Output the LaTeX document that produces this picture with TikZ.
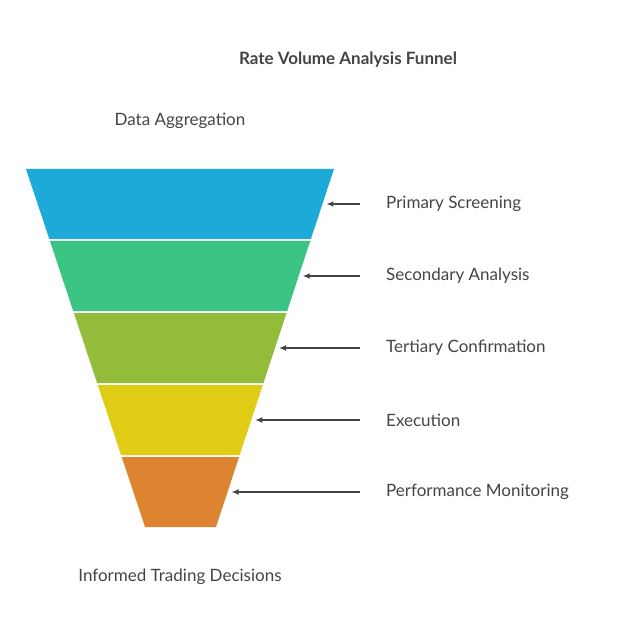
\documentclass[tikz,border=0pt]{standalone}
\usepackage{fontspec}
\setmainfont{Lato}
\usetikzlibrary{arrows.meta}
\definecolor{c1}{HTML}{1EAAD9}
\definecolor{c2}{HTML}{3CC484}
\definecolor{c3}{HTML}{93BC3A}
\definecolor{c4}{HTML}{E0CB15}
\definecolor{c5}{HTML}{DE8431}
\definecolor{txt}{HTML}{444444}
\tikzset{lbl/.style={anchor=west,inner sep=0pt,font=\fontsize{17}{20}\selectfont,text=txt},
 arr/.style={-{Latex[length=7pt,width=6pt]},line width=1.3pt,draw=txt}}
\begin{document}
\begin{tikzpicture}[x=1pt,y=-1pt]
\useasboundingbox (0,0) rectangle (637,636);
\def\lx#1{26+0.3324*(#1-169)}
\def\rx#1{334-0.3296*(#1-169)}
\foreach \t/\b/\c [count=\i] in {169/239/c1,241/311/c2,313/383/c3,385/455/c4,457/527/c5}{
  \fill[\c] ({\lx{\t}},\t) -- ({\rx{\t}},\t) -- ({\rx{\b}},\b) -- ({\lx{\b}},\b) -- cycle;
  \coordinate (tip\i) at ({\rx{(\t+\b)/2}+4},{(\t+\b)/2});
}
\node[font=\bfseries\fontsize{17}{20}\selectfont,text=txt] (title) at (348,60) {Rate Volume Analysis Funnel};
\node[lbl,anchor=center] (top) at (180,121) {Data Aggregation};
\node[lbl,anchor=center] (bot) at (180,577) {Informed Trading Decisions};
\foreach \n/\y [count=\i] in {Primary Screening/204,Secondary Analysis/276,Tertiary Confirmation/348,Execution/420,Performance Monitoring/492}{
  \node[lbl] (l\i) at (386,\y) {\n};
  \coordinate (s\i) at (360,\y);
  \draw[arr] (s\i) -- (tip\i);
}
\end{tikzpicture}
\end{document}
